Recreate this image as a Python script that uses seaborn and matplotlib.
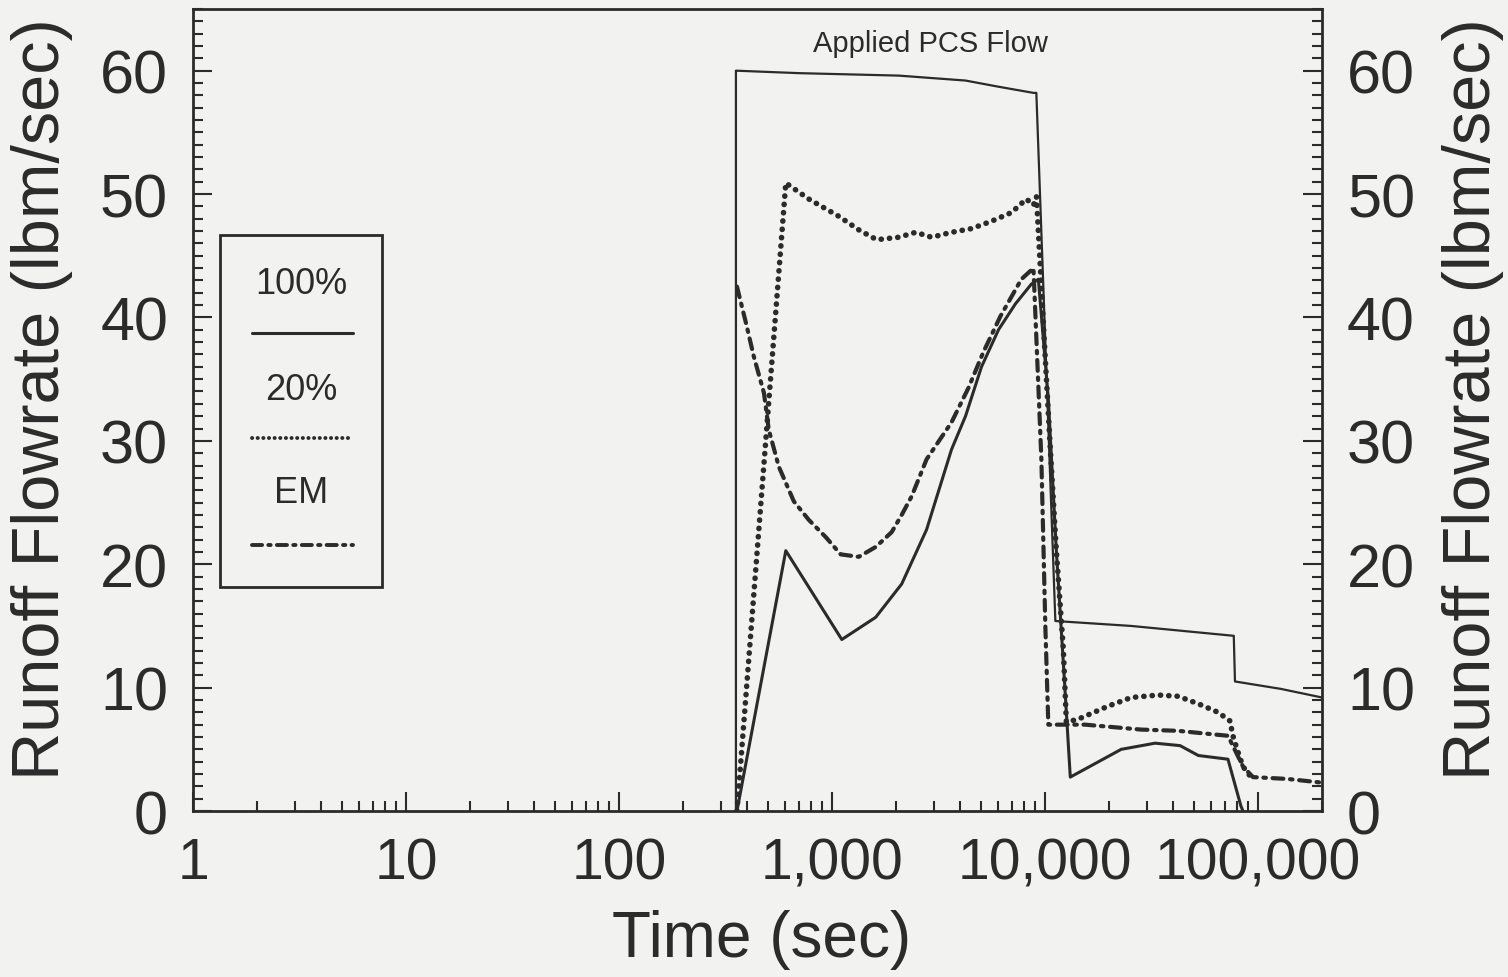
import matplotlib
matplotlib.use("Agg")
import pandas as pd
import matplotlib.pyplot as plt
from matplotlib.lines import Line2D
from matplotlib.patches import Rectangle
from matplotlib.ticker import FixedLocator, LogLocator, MultipleLocator, NullFormatter
import seaborn as sns

sns.set_theme(style="ticks")
plt.rcParams["font.family"] = ["Liberation Sans", "DejaVu Sans"]

INK = "#2b2b2b"
PAPER = "#f2f2f0"

# applied PCS flow (thin solid line, labelled in the plot)
pcs_time = [354, 354, 699, 2057, 4236, 6050, 8830, 9110, 11190, 25400,
            77000, 78000, 128000, 200000]
pcs_flow = [0.0, 60.0, 59.8, 59.6, 59.2, 58.7, 58.2, 58.2, 15.4, 15.0,
            14.2, 10.5, 9.9, 9.2]

# 100% case (solid)
full_time = [358, 607, 1112, 1604, 2125, 2780, 3641, 4236, 5035, 6050, 7265,
             8630, 9310, 10370, 11300, 12330, 13150, 22800, 32900, 43100,
             52500, 72300, 83200, 85100]
full_flow = [0.0, 21.1, 13.9, 15.7, 18.4, 22.8, 29.3, 32.0, 36.0, 39.0, 41.1,
             42.7, 43.1, 33.4, 21.2, 10.7, 2.75, 5.0, 5.5, 5.3,
             4.5, 4.2, 0.4, 0.0]

# 20% case (dotted)
p20_time = [358, 607, 778, 1076, 1336, 1622, 2057, 2471, 2936, 3641, 4519,
            5610, 6960, 8180, 8830, 9120, 10040, 10600, 11300, 12200, 12600,
            14350, 19800, 25400, 34000, 42200, 52300, 65000, 73900, 76300,
            79800, 85100, 92700]
p20_flow = [0.0, 50.9, 49.6, 48.2, 47.1, 46.3, 46.5, 46.9, 46.5, 46.9, 47.2,
            47.8, 48.5, 49.6, 49.1, 49.8, 36.6, 29.3, 21.2, 13.1, 7.2,
            7.45, 8.5, 9.2, 9.4, 9.3, 8.7, 8.0, 7.3, 6.1,
            5.0, 3.6, 2.75]

# EM case (dash-dot)
em_time = [358, 394, 430, 479, 505, 563, 662, 778, 935, 1099, 1336, 1604,
           1906, 2125, 2366, 2780, 3641, 4375, 5140, 6180, 7750, 8830, 9620,
           10040, 10370, 15460, 28300, 42200, 62900, 72300, 85100, 94800,
           138000, 200000]
em_flow = [42.5, 39.6, 36.8, 33.9, 30.9, 27.9, 25.1, 23.6, 22.2, 20.8, 20.6,
           21.4, 22.6, 24.0, 25.5, 28.5, 31.5, 34.3, 37.2, 40.1, 43.1, 44.0,
           28.5, 15.0, 7.0, 7.0, 6.6, 6.5, 6.2, 6.1, 3.6, 2.75,
           2.6, 2.3]

x_ticks = [1, 10, 100, 1000, 10000, 100000]
x_ticklabels = ["1", "10", "100", "1,000", "10,000", "100,000"]
y_ticks = [0, 10, 20, 30, 40, 50, 60]

dotted = (0, (0.05, 1.45))
dashdot = (0, (2.6, 1.6, 0.6, 1.6))

fig = plt.figure(figsize=(15.08, 9.78), dpi=100, facecolor=PAPER)
ax = fig.add_axes([0.128, 0.1697, 0.7487, 0.8201])
ax.set_facecolor(PAPER)

series = [
    (pcs_time, pcs_flow, "-", 1.6),
    (full_time, full_flow, "-", 2.2),
    (p20_time, p20_flow, dotted, 4.0),
    (em_time, em_flow, dashdot, 3.0),
]
for t, q, ls, lw in series:
    df = pd.DataFrame({"time": t, "flow": q})
    sns.lineplot(data=df, x="time", y="flow", ax=ax, sort=False,
                 estimator=None, color=INK, linestyle=ls, linewidth=lw,
                 dash_capstyle="round")

ax.set_xscale("log")
ax.set_xlim(1, 2e5)
ax.set_ylim(0, 65)

ax.xaxis.set_major_locator(FixedLocator(x_ticks))
ax.set_xticklabels(x_ticklabels)
ax.xaxis.set_minor_locator(LogLocator(base=10, subs=range(2, 10), numticks=20))
ax.xaxis.set_minor_formatter(NullFormatter())
ax.yaxis.set_major_locator(FixedLocator(y_ticks))
ax.yaxis.set_minor_locator(MultipleLocator(1))

for s in ax.spines.values():
    s.set_linewidth(2)
    s.set_color(INK)

ax.tick_params(axis="both", which="both", direction="in", colors=INK,
               width=1.5)
ax.tick_params(axis="both", which="major", length=14)
ax.tick_params(axis="both", which="minor", length=7)
ax.tick_params(axis="x", which="both", top=False, labelsize=41, pad=18)
ax.tick_params(axis="y", which="both", left=True, right=True,
               labelleft=True, labelright=True, labelsize=44, pad=18)
for lab in ax.get_xticklabels() + ax.get_yticklabels():
    lab.set_color(INK)

ax.set_xlabel("")
ax.set_ylabel("")
fig.text(0.505, 0.039, "Time (sec)", ha="center", va="center",
         fontsize=46, color=INK)
fig.text(0.028, 0.592, "Runoff Flowrate (lbm/sec)", rotation=90,
         ha="center", va="center", fontsize=48, color=INK)
fig.text(0.977, 0.592, "Runoff Flowrate (lbm/sec)", rotation=90,
         ha="center", va="center", fontsize=48, color=INK)

ax.text(0.653, 0.958, "Applied PCS Flow", transform=ax.transAxes,
        ha="center", va="center", fontsize=21, color=INK)

# legend box: label above each line sample
ax.add_patch(Rectangle((0.0239, 0.2799), 0.1439, 0.4378,
                       transform=ax.transAxes, fill=False,
                       edgecolor=INK, linewidth=2))
legend_rows = [
    ("100%", "-", 2.2, 0.658, 0.5958),
    ("20%", (0, (0.05, 1.4)), 2.8, 0.525, 0.465),
    ("EM", dashdot, 2.8, 0.397, 0.332),
]
for name, ls, lw, ty, ly in legend_rows:
    ax.text(0.0958, ty, name, transform=ax.transAxes, ha="center",
            va="center", fontsize=26, color=INK)
    ax.add_line(Line2D([0.052, 0.142], [ly, ly], transform=ax.transAxes,
                       color=INK, linestyle=ls, linewidth=lw,
                       dash_capstyle="round"))

fig.savefig("out.png", dpi=100, facecolor=PAPER)
plt.close(fig)
